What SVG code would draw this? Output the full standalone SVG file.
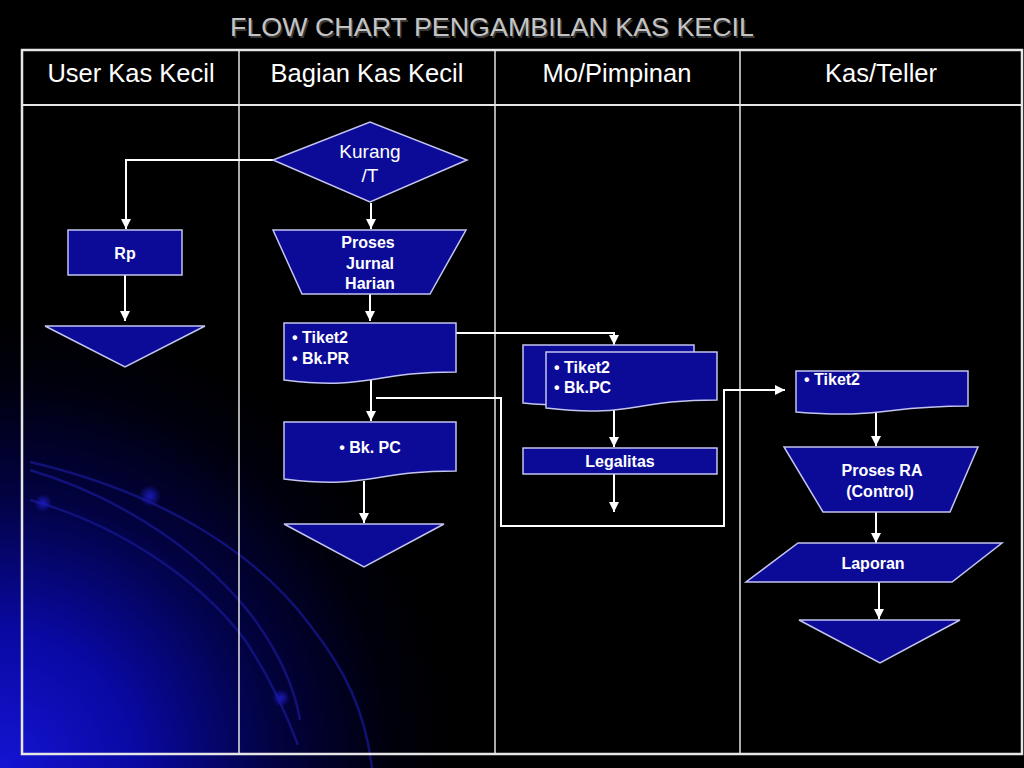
<svg xmlns="http://www.w3.org/2000/svg" width="1024" height="768" viewBox="0 0 1024 768">
<defs>
<radialGradient id="bg" cx="0" cy="768" r="460" gradientUnits="userSpaceOnUse">
<stop offset="0" stop-color="#1414d4"/>
<stop offset="0.3" stop-color="#0909a2"/>
<stop offset="0.6" stop-color="#020240"/>
<stop offset="0.85" stop-color="#00000c"/>
<stop offset="1" stop-color="#000000"/>
</radialGradient>
<marker id="arr" markerWidth="10" markerHeight="10" refX="10" refY="5" orient="auto" markerUnits="userSpaceOnUse">
<path d="M0,0 L10,5 L0,10 z" fill="#ffffff"/>
</marker>
<radialGradient id="dot">
<stop offset="0" stop-color="#1a1ab8"/>
<stop offset="1" stop-color="#1a1ab8" stop-opacity="0"/>
</radialGradient>
</defs>
<style>
.shape{fill:#0b0b98;stroke:#c4c4f0;stroke-width:1.5}
.hdr{font-family:"Liberation Sans",Arial,sans-serif;font-size:25.5px;fill:#ffffff;text-anchor:middle}
.t{font-family:"Liberation Sans",Arial,sans-serif;font-size:16px;font-weight:bold;fill:#ffffff}
.c{text-anchor:middle}
.k{font-family:"Liberation Sans",Arial,sans-serif;font-size:19px;fill:#ffffff;text-anchor:middle}
.conn{fill:none;stroke:#ffffff;stroke-width:2}
.arc{fill:none;stroke:#15158a;stroke-width:2.5;opacity:0.8}
.grid{stroke:#e6e6e6;fill:none}
</style>
<rect x="0" y="0" width="1024" height="768" fill="url(#bg)"/>
<g id="decor">
<path class="arc" d="M30,462 C150,490 250,545 310,625 C345,670 365,710 372,768"/>
<path class="arc" d="M30,470 C130,500 210,560 255,620 C280,655 295,690 300,720"/>
<path class="arc" d="M30,500 C120,525 200,580 245,640 C265,670 285,710 298,745"/>
<circle cx="150" cy="496" r="11" fill="url(#dot)"/>
<circle cx="43" cy="503" r="9" fill="url(#dot)"/>
<circle cx="281" cy="698" r="9" fill="url(#dot)"/>
</g>
<text x="492" y="36" font-family="'Liberation Sans',Arial,sans-serif" font-size="26" fill="#3a3a3a" text-anchor="middle" textLength="524" lengthAdjust="spacingAndGlyphs" transform="translate(1.5,1.5)">FLOW CHART PENGAMBILAN KAS KECIL</text>
<text x="492" y="36" font-family="'Liberation Sans',Arial,sans-serif" font-size="26" fill="#c4c4c4" text-anchor="middle" textLength="524" lengthAdjust="spacingAndGlyphs">FLOW CHART PENGAMBILAN KAS KECIL</text>
<g id="table">
<rect class="grid" x="22" y="50" width="1000" height="704" stroke-width="2.5"/>
<line class="grid" x1="22" y1="105" x2="1022" y2="105" stroke-width="2"/>
<line class="grid" x1="239" y1="50" x2="239" y2="754" stroke-width="1.5"/>
<line class="grid" x1="495" y1="50" x2="495" y2="754" stroke-width="1.5"/>
<line class="grid" x1="740" y1="50" x2="740" y2="754" stroke-width="1.5"/>
<text class="hdr" x="131" y="82">User Kas Kecil</text>
<text class="hdr" x="367" y="82">Bagian Kas Kecil</text>
<text class="hdr" x="617" y="82">Mo/Pimpinan</text>
<text class="hdr" x="881" y="82">Kas/Teller</text>
</g>
<g id="connectors">
<polyline class="conn" points="273,160 126,160 126,229" marker-end="url(#arr)"/>
<line class="conn" x1="371" y1="203" x2="371" y2="229" marker-end="url(#arr)"/>
<line class="conn" x1="370" y1="294" x2="370" y2="321" marker-end="url(#arr)"/>
<line class="conn" x1="125" y1="275" x2="125" y2="321" marker-end="url(#arr)"/>
<polyline class="conn" points="456,333 614,333 614,345" marker-end="url(#arr)"/>
<line class="conn" x1="371" y1="380" x2="371" y2="421" marker-end="url(#arr)"/>
<polyline class="conn" points="376,398 501,398 501,526 724,526 724,390 785,390" marker-end="url(#arr)"/>
<line class="conn" x1="364" y1="481" x2="364" y2="523" marker-end="url(#arr)"/>
<line class="conn" x1="614" y1="406" x2="614" y2="447" marker-end="url(#arr)"/>
<line class="conn" x1="614" y1="474" x2="614" y2="512" marker-end="url(#arr)"/>
<line class="conn" x1="876" y1="411" x2="876" y2="446" marker-end="url(#arr)"/>
<line class="conn" x1="876" y1="512" x2="876" y2="543" marker-end="url(#arr)"/>
<line class="conn" x1="879" y1="582" x2="879" y2="619" marker-end="url(#arr)"/>
</g>
<g id="rp">
<rect class="shape" x="68" y="230" width="114" height="45"/>
<text class="t c" x="125" y="259">Rp</text>
</g>
<g id="end-user">
<polygon class="shape" points="45,326 205,326 125,367"/>
</g>
<g id="kurang">
<polygon class="shape" points="273,160 370,122 467,160 370,202"/>
<text class="k" x="370" y="158">Kurang</text>
<text class="k" x="370" y="182">/T</text>
</g>
<g id="proses-jurnal">
<polygon class="shape" points="273,230 466,230 430,294 302,294"/>
<text class="t c" x="368" y="248">Proses</text>
<text class="t c" x="370" y="269">Jurnal</text>
<text class="t c" x="370" y="289">Harian</text>
</g>
<g id="doc-bkpr">
<path class="shape" d="M284,323 H456 V372 C370,372 370,390.5 284,380 Z"/>
<text class="t" x="292" y="343">• Tiket2</text>
<text class="t" x="292" y="364">• Bk.PR</text>
</g>
<g id="doc-bkpc">
<path class="shape" d="M284,422 H456 V471 C370,471 370,489.5 284,479 Z"/>
<text class="t c" x="370" y="453">• Bk. PC</text>
</g>
<g id="end-bagian">
<polygon class="shape" points="284,524 444,524 364,567"/>
</g>
<g id="doc-mo">
<path class="shape" d="M523,345 H694 V393 C608,393 608,411 523,403 Z"/>
<path class="shape" d="M546,352 H717 V400 C631,400 631,418 546,408 Z"/>
<text class="t" x="554" y="373">• Tiket2</text>
<text class="t" x="554" y="393">• Bk.PC</text>
</g>
<g id="legalitas">
<rect class="shape" x="523" y="448" width="194" height="26"/>
<text class="t c" x="620" y="467">Legalitas</text>
</g>
<g id="doc-kas">
<path class="shape" d="M796,371 H968 V406 C882,406 882,419 796,412 Z"/>
<text class="t" x="804" y="385">• Tiket2</text>
</g>
<g id="proses-ra">
<polygon class="shape" points="784,447 978,447 950,512 823,512"/>
<text class="t c" x="882" y="476">Proses RA</text>
<text class="t c" x="880" y="497">(Control)</text>
</g>
<g id="laporan">
<polygon class="shape" points="798,543 1002,543 952,582 746,582"/>
<text class="t c" x="873" y="569">Laporan</text>
</g>
<g id="end-kas">
<polygon class="shape" points="799,620 960,620 880,663"/>
</g>
</svg>
